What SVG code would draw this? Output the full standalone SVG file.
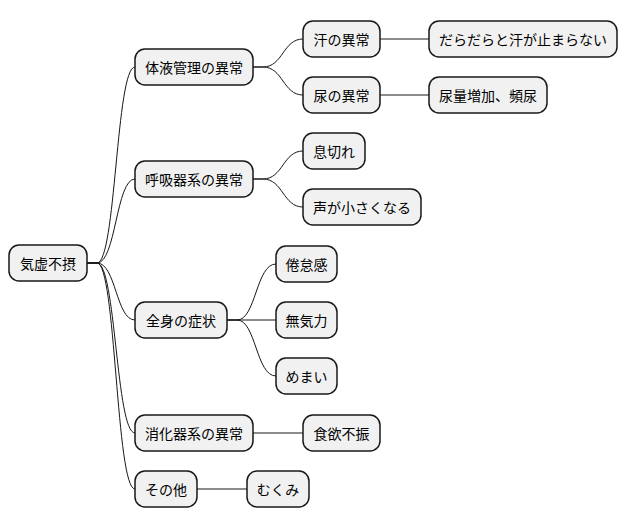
<svg xmlns="http://www.w3.org/2000/svg" width="628" height="527" viewBox="0 0 628 527">
<style>
rect{fill:#f1f1f1;stroke:#181818;stroke-width:1.5}
text{font-family:"Noto Sans CJK JP","Noto Sans",sans-serif;font-size:14px;fill:#000;dominant-baseline:central}
.c path{fill:none;stroke:#181818;stroke-width:1}
</style>
<rect width="628" height="527" fill="#fff" stroke="none" style="fill:#fff;stroke:none"/>
<g class="c" id="connectors">
<path d="M87,263 L97,263 C116,263 116,67 135,67"/>
<path d="M87,263 L97,263 C116,263 116,179 135,179"/>
<path d="M87,263 L97,263 C116,263 116,320 135,320"/>
<path d="M87,263 L97,263 C116,263 116,433 135,433"/>
<path d="M87,263 L97,263 C116,263 116,489 135,489"/>
<path d="M253,67 L263,67 C283,67 283,39 303,39"/>
<path d="M253,67 L263,67 C283,67 283,95 303,95"/>
<path d="M380,39 L429,39"/>
<path d="M380,95 L429,95"/>
<path d="M253,179 L263,179 C283,179 283,151 303,151"/>
<path d="M253,179 L263,179 C283,179 283,207 303,207"/>
<path d="M227,320 L237,320 C256,320 256,264 276,264"/>
<path d="M227,320 L276,320"/>
<path d="M227,320 L237,320 C256,320 256,376 276,376"/>
<path d="M253,433 L303,433"/>
<path d="M197,489 L247,489"/>
</g>
<g id="root"><rect x="9" y="245" width="78" height="36" rx="10"/><text x="48" y="263" text-anchor="middle">気虚不摂</text></g>
<g id="n1"><rect x="135" y="49" width="118" height="36" rx="10"/><text x="194" y="67" text-anchor="middle">体液管理の異常</text></g>
<g id="n11"><rect x="303" y="21" width="77" height="36" rx="10"/><text x="341.5" y="39" text-anchor="middle">汗の異常</text></g>
<g id="n111"><rect x="429" y="21" width="188" height="36" rx="10"/><text x="523" y="39" text-anchor="middle">だらだらと汗が止まらない</text></g>
<g id="n12"><rect x="303" y="77" width="77" height="36" rx="10"/><text x="341.5" y="95" text-anchor="middle">尿の異常</text></g>
<g id="n121"><rect x="429" y="77" width="118" height="36" rx="10"/><text x="488" y="95" text-anchor="middle">尿量増加、頻尿</text></g>
<g id="n2"><rect x="135" y="161" width="118" height="36" rx="10"/><text x="194" y="179" text-anchor="middle">呼吸器系の異常</text></g>
<g id="n21"><rect x="303" y="133" width="62" height="36" rx="10"/><text x="334" y="151" text-anchor="middle">息切れ</text></g>
<g id="n22"><rect x="303" y="189" width="118" height="36" rx="10"/><text x="362" y="207" text-anchor="middle">声が小さくなる</text></g>
<g id="n3"><rect x="135" y="302" width="92" height="36" rx="10"/><text x="181" y="320" text-anchor="middle">全身の症状</text></g>
<g id="n31"><rect x="276" y="246" width="61" height="36" rx="10"/><text x="306.5" y="264" text-anchor="middle">倦怠感</text></g>
<g id="n32"><rect x="276" y="302" width="61" height="36" rx="10"/><text x="306.5" y="320" text-anchor="middle">無気力</text></g>
<g id="n33"><rect x="276" y="358" width="61" height="36" rx="10"/><text x="306.5" y="376" text-anchor="middle">めまい</text></g>
<g id="n4"><rect x="135" y="415" width="118" height="36" rx="10"/><text x="194" y="433" text-anchor="middle">消化器系の異常</text></g>
<g id="n41"><rect x="303" y="415" width="77" height="36" rx="10"/><text x="341.5" y="433" text-anchor="middle">食欲不振</text></g>
<g id="n5"><rect x="135" y="471" width="62" height="36" rx="10"/><text x="166" y="489" text-anchor="middle">その他</text></g>
<g id="n51"><rect x="247" y="471" width="62" height="36" rx="10"/><text x="278" y="489" text-anchor="middle">むくみ</text></g>
</svg>
